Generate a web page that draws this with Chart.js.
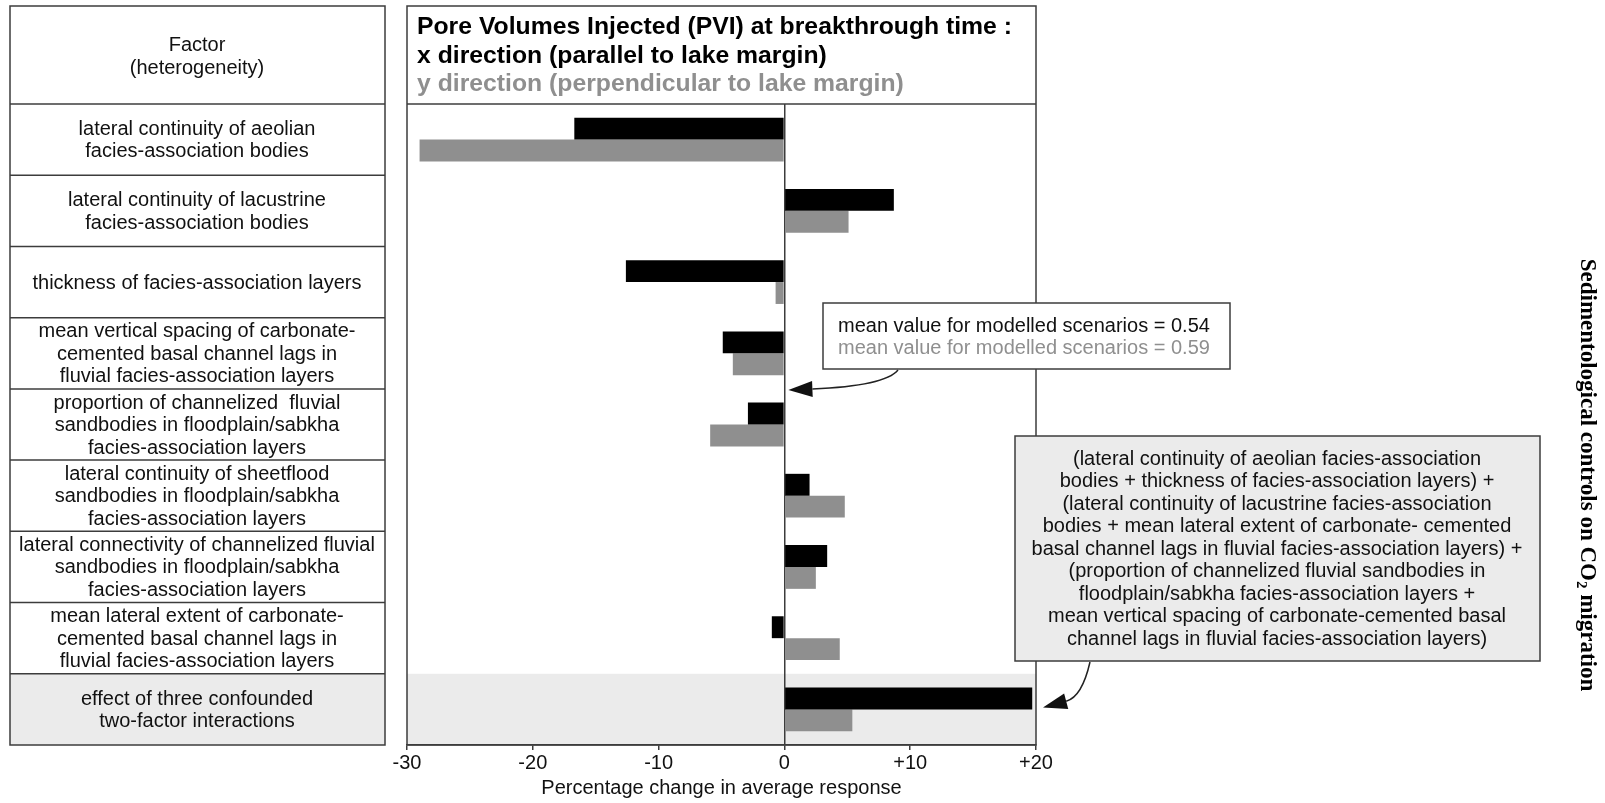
<!DOCTYPE html>
<html>
<head>
<meta charset="utf-8">
<script src="https://cdn.jsdelivr.net/npm/chart.js@4.4.0/dist/chart.umd.min.js"></script>
<style>
  body { margin: 0; background: #fff; }
</style>
</head>
<body>
<canvas id="pviChart" width="1605" height="803"></canvas>
<script>
/*---- data ----- */

var factors = [
  ["lateral continuity of aeolian", "facies-association bodies"],
  ["lateral continuity of lacustrine", "facies-association bodies"],
  ["thickness of facies-association layers"],
  ["mean vertical spacing of carbonate-", "cemented basal channel lags in", "fluvial facies-association layers"],
  ["proportion of channelized  fluvial", "sandbodies in floodplain/sabkha", "facies-association layers"],
  ["lateral continuity of sheetflood", "sandbodies in floodplain/sabkha", "facies-association layers"],
  ["lateral connectivity of channelized fluvial", "sandbodies in floodplain/sabkha", "facies-association layers"],
  ["mean lateral extent of carbonate-", "cemented basal channel lags in", "fluvial facies-association layers"],
  ["effect of three confounded", "two-factor interactions"]
];
var xDirection = [-16.7, 8.7, -12.6, -4.9, -2.9, 2.0, 3.4, -1.0, 19.7];
var yDirection = [-29.0, 5.1, -0.7, -4.1, -5.9, 4.8, 2.5, 4.4, 5.4];
var tickValues = [-30, -20, -10, 0, 10, 20];
var tickLabels = ["-30", "-20", "-10", "0", "+10", "+20"];

var headerLines = ["Factor", "(heterogeneity)"];
var titleLines = [
  "Pore Volumes Injected (PVI) at breakthrough time :",
  "x direction (parallel to lake margin)",
  "y direction (perpendicular to lake margin)"
];
var meanLines = ["mean value for modelled scenarios = 0.54", "mean value for modelled scenarios = 0.59"];
var interactionLines = [
  "(lateral continuity of aeolian facies-association",
  "bodies + thickness of facies-association layers) +",
  "(lateral continuity of lacustrine facies-association",
  "bodies + mean lateral extent of carbonate- cemented",
  "basal channel lags in fluvial facies-association layers) +",
  "(proportion of channelized fluvial sandbodies in",
  "floodplain/sabkha facies-association layers +",
  "mean vertical spacing of carbonate-cemented basal",
  "channel lags in fluvial facies-association layers)"
];

/*---- drawing helpers ----- */

var LINE = '#3c3c3c';
var GREY = '#8f8f8f';
var SANS = '"Liberation Sans", Arial, sans-serif';

function curvedArrow(c, x0, y0, cx, cy, tx, ty) {
  var dx = tx - cx, dy = ty - cy, len = Math.sqrt(dx * dx + dy * dy);
  var ux = dx / len, uy = dy / len;
  var headLen = 24, headW = 8;
  var bx = tx - ux * headLen, by = ty - uy * headLen;
  c.beginPath();
  c.moveTo(x0, y0);
  c.quadraticCurveTo(cx, cy, bx, by);
  c.stroke();
  c.beginPath();
  c.moveTo(tx, ty);
  c.lineTo(bx - uy * headW, by + ux * headW);
  c.lineTo(bx + uy * headW, by - ux * headW);
  c.closePath();
  c.fill();
}

function rowEdge(chart, i) {
  var a = chart.chartArea, y = chart.scales.y;
  if (i === 0) return a.top;
  if (i === factors.length) return a.bottom;
  return (y.getPixelForValue(i - 1) + y.getPixelForValue(i)) / 2;
}

var figurePlugin = {
  id: 'figurePlugin',
  beforeDraw: function (chart) {
    var c = chart.ctx, a = chart.chartArea;
    var n = factors.length;
    var top = rowEdge(chart, n - 1);
    c.save();
    c.fillStyle = '#fff';
    c.fillRect(0, 0, chart.width, chart.height);
    c.fillStyle = '#ebebeb';
    c.fillRect(10, top, 375, a.bottom - top);
    c.fillRect(a.left, top, a.right - a.left, a.bottom - top);
    c.restore();
  },
  afterDraw: function (chart) {
    var c = chart.ctx, a = chart.chartArea, y = chart.scales.y, x = chart.scales.x;
    var n = factors.length;
    c.save();

    // table on the left
    c.strokeStyle = LINE;
    c.lineWidth = 1.5;
    c.strokeRect(10, 6, 375, a.bottom - 6);
    for (var i = 0; i < n; i++) {
      c.beginPath();
      c.moveTo(10, rowEdge(chart, i));
      c.lineTo(385, rowEdge(chart, i));
      c.stroke();
    }
    c.fillStyle = '#111';
    c.font = '20px ' + SANS;
    c.textAlign = 'center';
    c.textBaseline = 'middle';
    headerLines.forEach(function (t, k) {
      c.fillText(t, 197, 45 + k * 23);
    });
    factors.forEach(function (lines, r) {
      var mid = y.getPixelForValue(r);
      lines.forEach(function (t, k) {
        c.fillText(t, 197, mid + 1 + (k - (lines.length - 1) / 2) * 22.5);
      });
    });

    // chart frame and title box
    c.strokeRect(a.left, 6, a.right - a.left, a.bottom - 6);
    c.beginPath();
    c.moveTo(a.left, a.top);
    c.lineTo(a.right, a.top);
    c.stroke();

    c.textAlign = 'left';
    c.font = 'bold 24px "Liberation Sans Narrow", ' + SANS;
    var sx = 595 / c.measureText(titleLines[0]).width;
    var titleY = [27, 56, 84];
    titleLines.forEach(function (t, k) {
      c.save();
      c.translate(a.left + 10, titleY[k]);
      c.scale(sx, 1);
      c.fillStyle = k === 2 ? GREY : '#000';
      c.fillText(t, 0, 0);
      c.restore();
    });

    // mean value box
    c.fillStyle = '#fff';
    c.fillRect(823, 303, 407, 66);
    c.strokeRect(823, 303, 407, 66);
    c.font = '20px ' + SANS;
    c.fillStyle = '#111';
    c.fillText(meanLines[0], 838, 326);
    c.fillStyle = GREY;
    c.fillText(meanLines[1], 838, 348);
    c.fillStyle = '#111';
    c.strokeStyle = '#222';
    curvedArrow(c, 898, 370, 885, 386, x.getPixelForValue(0) + 4, rowEdge(chart, 4) + 1);

    // interactions box
    c.strokeStyle = LINE;
    c.fillStyle = '#ebebeb';
    c.fillRect(1015, 436, 525, 225);
    c.strokeRect(1015, 436, 525, 225);
    c.fillStyle = '#111';
    c.textAlign = 'center';
    interactionLines.forEach(function (t, k) {
      c.fillText(t, 1277, 459 + k * 22.5);
    });
    c.strokeStyle = '#222';
    curvedArrow(c, 1090, 662, 1082, 697, a.right + 7, y.getPixelForValue(n - 1) - 2);

    // vertical side label
    c.translate(1587, 475);
    c.rotate(Math.PI / 2);
    c.textAlign = 'left';
    c.textBaseline = 'middle';
    var big = 'bold 23px "Liberation Serif", "Times New Roman", serif';
    var small = 'bold 15px "Liberation Serif", "Times New Roman", serif';
    var p1 = 'Sedimentological controls on CO', p2 = '2', p3 = ' migration';
    c.font = big;
    var w1 = c.measureText(p1).width, w3 = c.measureText(p3).width;
    c.font = small;
    var w2 = c.measureText(p2).width;
    var sx0 = -(w1 + w2 + w3) / 2;
    c.fillStyle = '#000';
    c.font = big;
    c.fillText(p1, sx0, 0);
    c.font = small;
    c.fillText(p2, sx0 + w1, 6);
    c.font = big;
    c.fillText(p3, sx0 + w1 + w2, 0);

    c.restore();
  }
};

/*---- horizontal bar chart ----- */

var ctx = document.getElementById('pviChart').getContext('2d');
var pviChart = new Chart(ctx, {
  type: 'bar',
  data: {
    labels: factors,
    datasets: [{
      label: "x direction (parallel to lake margin)",
      backgroundColor: '#000',
      borderWidth: 0,
      data: xDirection
    }, {
      label: "y direction (perpendicular to lake margin)",
      backgroundColor: GREY,
      borderWidth: 0,
      data: yDirection
    }]
  },
  options: {
    indexAxis: 'y',
    responsive: false,
    animation: false,
    categoryPercentage: 0.615,
    barPercentage: 1.0,
    layout: { padding: { left: 407, right: 569, top: 104, bottom: 0 } },
    plugins: { legend: { display: false }, tooltip: { enabled: false } },
    scales: {
      x: {
        min: -30,
        max: 20,
        ticks: {
          stepSize: 10,
          autoSkip: false,
          maxRotation: 0,
          padding: 3,
          color: '#111',
          font: { size: 20, family: SANS, lineHeight: 1.0 },
          callback: function (value) { return tickLabels[tickValues.indexOf(value)]; }
        },
        grid: {
          color: function (g) { return g.tick && g.tick.value === 0 ? LINE : 'rgba(0,0,0,0)'; },
          lineWidth: 1.5,
          tickLength: 5,
          tickColor: LINE
        },
        border: { display: true, color: LINE, width: 1.5 },
        title: {
          display: true,
          text: 'Percentage change in average response',
          color: '#111',
          font: { size: 20, family: SANS, lineHeight: 1.0 },
          padding: { top: 2, bottom: 5 }
        }
      },
      y: { display: false }
    }
  },
  plugins: [figurePlugin]
});
</script>
</body>
</html>
